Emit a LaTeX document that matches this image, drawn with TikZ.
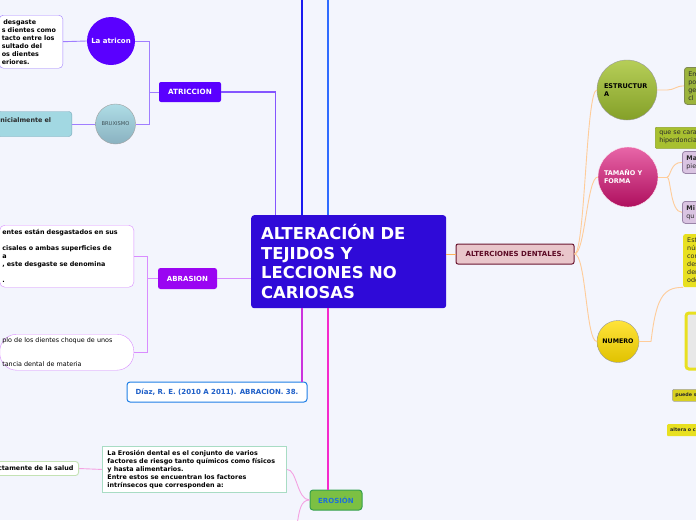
\documentclass[tikz,border=0pt]{standalone}
\usepackage{fontspec}
\setmainfont{DejaVu Sans}
\definecolor{bg}{HTML}{F3F5FD}
\definecolor{mainF}{HTML}{2F0AD8}
\definecolor{atricF}{HTML}{5A00FF}
\definecolor{abrF}{HTML}{9A05F2}
\definecolor{atrL}{HTML}{A07EFF}
\definecolor{atrMain}{HTML}{8455FF}
\definecolor{abrL}{HTML}{D98CFF}
\definecolor{blueA}{HTML}{1A1AF0}
\definecolor{blueB}{HTML}{2F6BFF}
\definecolor{magA}{HTML}{CC33DD}
\definecolor{magB}{HTML}{F52ACC}
\definecolor{pinkL}{HTML}{F4A2E2}
\definecolor{eroF}{HTML}{7CC043}
\definecolor{eroD}{HTML}{34A04E}
\definecolor{eroT}{HTML}{1F6FD8}
\definecolor{eroBox}{HTML}{A8DCC4}
\definecolor{ctamBox}{HTML}{C4E2B4}
\definecolor{diazB}{HTML}{1E7EE6}
\definecolor{diazT}{HTML}{1E5FC8}
\definecolor{altF}{HTML}{E9C6CB}
\definecolor{altD}{HTML}{6B1630}
\definecolor{altT}{HTML}{5C0A25}
\definecolor{orMain}{HTML}{FFB25A}
\definecolor{orL}{HTML}{FFCC99}
\definecolor{estT}{HTML}{B6CE58}
\definecolor{estB}{HTML}{84A028}
\definecolor{tamT}{HTML}{E866A8}
\definecolor{tamB}{HTML}{AE0F5E}
\definecolor{numT}{HTML}{FFE33A}
\definecolor{numB}{HTML}{E0C200}
\definecolor{bruxT}{HTML}{AEDCE6}
\definecolor{bruxB}{HTML}{8AB2C0}
\definecolor{nicF}{HTML}{A2D8E2}
\definecolor{nicD}{HTML}{78A8BA}
\definecolor{oliveF}{HTML}{9CB43C}
\definecolor{oliveD}{HTML}{7F8A50}
\definecolor{queF}{HTML}{A8C030}
\definecolor{queD}{HTML}{8FA428}
\definecolor{lilaF}{HTML}{DAC4E2}
\definecolor{lilaD}{HTML}{9A84A8}
\definecolor{yelF}{HTML}{E8E020}
\definecolor{pueF}{HTML}{D8D020}
\definecolor{grayIn}{HTML}{E8E8E8}
\definecolor{darkTxt}{HTML}{2A2A2A}
\tikzset{
  smalltxt/.style={font=\fontsize{6.4}{8}\selectfont\bfseries},
  normtxt/.style={font=\fontsize{6.4}{8}\selectfont},
  lbl/.style={font=\fontsize{7}{8.5}\selectfont\bfseries},
  clbl/.style={font=\fontsize{6.5}{8}\selectfont\bfseries},
  circ/.style={circle, inner sep=0pt},
  tinytxt/.style={font=\fontsize{4.8}{5.5}\selectfont\bfseries},
}
\begin{document}
\begin{tikzpicture}[x=1pt,y=-1pt]
\fill[bg] (0,0) rectangle (696,520);
\useasboundingbox (0,0) rectangle (696,520);
\clip (0,0) rectangle (696,520);

% ---------- main node
\node[fill=mainF, rounded corners=3, text=white, anchor=north west,
  minimum width=195, minimum height=93, text width=175, inner xsep=10, inner ysep=0,
  align=left, font=\fontsize{16.4}{19.6}\selectfont\bfseries] (main) at (251,215)
  {ALTERACIÓN DE\\TEJIDOS Y\\LECCIONES NO\\CARIOSAS};

% ---------- top lines
\coordinate (topA) at (302,0);
\coordinate (topB) at (328,0);
\coordinate (mA) at (302,215);
\coordinate (mB) at (328,215);
\coordinate (mAtr) at (275.5,215);
\draw[blueA, line width=1.3] (mA) -- (topA);
\draw[blueB, line width=1.3] (mB) -- (topB);

% ---------- ATRICCION branch
\node[fill=atricF, rounded corners=2, text=white, minimum width=62, minimum height=20,
  inner sep=0, font=\fontsize{7.2}{8.5}\selectfont\bfseries] (atr) at (190,92) {ATRICCION};
\draw[atrMain, line width=1.1] (atr.east) -| (mAtr);
\coordinate (atrJ) at (149,92);
\node[circ, fill=atricF, minimum size=48, text=white, lbl] (atricon) at (111,41) {La atricon};
\node[circ, draw=gray!75, top color=bruxT, bottom color=bruxB, minimum size=40,
  text=black!55!bruxB, font=\fontsize{5.2}{6}\selectfont] (brux) at (115.5,124) {BRUXISMO};
\draw[atrL, line width=0.9] (atr.west) -- (atrJ);
\draw[atrL, line width=0.9] (atrJ) |- (atricon.east);
\draw[atrL, line width=0.9] (atrJ) |- (brux.east);
\node[draw=atrL, fill=white, rounded corners=4, anchor=north east, text width=58.5,
  inner xsep=2.5, inner ysep=0, minimum height=53, align=left, smalltxt] (atxt) at (63,15)
  {\hspace*{1.5pt}desgaste\\s dientes como\\tacto entre los\\sultado del\\os dientes\\eriores.};
\draw[atrL, line width=0.9] (atricon.west) -- (atxt.east);
\node[fill=nicF, draw=nicD, rounded corners=3, anchor=east, text width=69, inner xsep=2.5,
  inner ysep=0, minimum height=25, align=left, smalltxt, text=darkTxt] (nic) at (72,124)
  {nicialmente el\\\mbox{}};
\draw[atrL, line width=0.9] (brux.west) -- (nic.east);

% ---------- ABRASION branch
\node[fill=abrF, rounded corners=2.5, text=white, minimum width=59, minimum height=21,
  inner sep=0, lbl] (abr) at (187.5,278.5) {ABRASION};
\draw[abrL, line width=1] (abr.east) -- (abr.east -| main.west);
\coordinate (abrJ) at (147,278.5);
\node[draw=abrL, fill=white, rounded corners=5, anchor=north east, text width=129,
  inner xsep=2.5, inner ysep=0, minimum height=62, align=left, smalltxt] (ab1) at (134,225)
  {entes están desgastados en sus\\\mbox{}\\cisales o ambas superficies de\\a\\, este desgaste se denomina\\\mbox{}\\.};
\node[draw=abrL, fill=white, rounded corners=17, anchor=north east, text width=129,
  inner xsep=2.5, inner ysep=0, minimum height=36, align=left, normtxt] (ab2) at (134,334)
  {plo de los dientes choque de unos\\\mbox{}\\\mbox{}\\tancia dental de materia};
\draw[abrL, line width=0.9] (abr.west) -- (abrJ);
\draw[abrL, line width=0.9] (abrJ) |- (ab1.east);
\draw[abrL, line width=0.9] (abrJ) |- (ab2.east);

% ---------- Diaz
\node[draw=diazB, line width=1, fill=white, rounded corners=3, minimum width=180,
  minimum height=20, inner sep=0, text=diazT, font=\fontsize{7}{8}\selectfont\bfseries] (diaz) at (217,392)
  {Díaz, R. E. (2010 A 2011). ABRACION. 38.};
\coordinate (mD) at (302,308);
\draw[magA, line width=1.1] (mD) -- (mD |- diaz.north);

% ---------- EROSION
\node[fill=eroF, draw=eroD, line width=1, rounded corners=3, minimum width=52,
  minimum height=20, inner sep=0, text=eroT, lbl] (ero) at (336,500) {EROSIÓN};
\coordinate (mE) at (328,308);
\draw[magB, line width=1.3] (mE) -- (mE |- ero.north);
\node[draw=eroBox, line width=0.9, fill=white, anchor=north west, text width=174,
  inner xsep=5, inner ysep=0, minimum height=46, align=left, smalltxt] (etx) at (102,446)
  {La Erosión dental es el conjunto de varios\\factores de riesgo tanto químicos como físicos\\y hasta alimentarios.\\Entre estos se encuentran los factores\\intrínsecos que corresponden a:};
\draw[pinkL, line width=0.9] (ero.west) .. controls (297,500) and (297,469) .. (etx.east);
\coordinate (eroOff) at (297,526);
\draw[pinkL, line width=0.9] (ero.west) .. controls (301,500) and (299,510) .. (eroOff);
\node[draw=ctamBox, line width=0.9, fill=white, rounded corners=3, anchor=east,
  text width=80, inner xsep=5, inner ysep=0, minimum height=14, align=right, smalltxt] (ctam) at (79,468.5)
  {ctamente de la salud};
\draw[pinkL, line width=0.9] (etx.west) -- (ctam.east);

% ---------- ALTERCIONES DENTALES
\node[fill=altF, draw=altD, line width=1, rounded corners=2, minimum width=118,
  minimum height=20, inner sep=0, text=altT, lbl] (alt) at (515,254) {ALTERCIONES DENTALES.};
\draw[orMain, line width=1] (main.east |- alt.west) -- (alt.west);

\node[circ, draw=gray!80, top color=estT, bottom color=estB, minimum size=60,
  text width=46, align=left, clbl, text=black] (estr) at (627,90) {ESTRUCTUR\\A};
\node[circ, draw=white!85!tamT, top color=tamT, bottom color=tamB, minimum size=60,
  text width=48, align=left, clbl, text=white] (tam) at (628,177) {TAMAÑO Y\\FORMA};
\node[circ, draw=gray!80, top color=numT, bottom color=numB, minimum size=42,
  font=\fontsize{6.3}{7}\selectfont\bfseries, text=black] (num) at (618,341.5) {NUMERO};

\draw[orL, line width=0.9] (alt.east) .. controls (585,254) and (586,90) .. (estr.west);
\draw[orL, line width=0.9] (alt.east) .. controls (585,254) and (587,177) .. (tam.west);
\draw[orL, line width=0.9] (alt.east) .. controls (586,254) and (586,341.5) .. (num.west);

% right-hand boxes
\node[fill=oliveF, draw=oliveD, line width=0.8, rounded corners=3, anchor=north west,
  minimum width=30, minimum height=37, text width=25, inner xsep=4, inner ysep=0,
  align=left, normtxt, text=darkTxt] (em) at (684,67) {Em\\po\\ge\\cl};
\draw[orL, line width=0.9] (estr.east) -- ++(10,0) .. controls +(7,0) and +(-8,0) .. (em.west);

\node[fill=queF, draw=queD, line width=0.6, rounded corners=1, anchor=north west,
  minimum width=50, minimum height=21, text width=44, inner xsep=4, inner ysep=0,
  align=left, normtxt, text=darkTxt] (que) at (655,127) {que se cara\\hiperdoncia};

\node[fill=lilaF, draw=lilaD, line width=0.8, rounded corners=3, anchor=north west,
  minimum width=30, minimum height=22, text width=24, inner xsep=4, inner ysep=0,
  align=left, normtxt, text=darkTxt] (ma) at (682,151) {\textbf{Ma}\\pie};
\node[fill=lilaF, draw=lilaD, line width=0.8, rounded corners=3, anchor=north west,
  minimum width=30, minimum height=22, text width=24, inner xsep=4, inner ysep=0,
  align=left, normtxt, text=darkTxt] (mi) at (682,201) {\textbf{Mi}\\qu};
\coordinate (tamJ) at (667,177);
\draw[orL, line width=0.9] (tam.east) -- (tamJ);
\draw[orL, line width=0.9] (tamJ) .. controls (671,177) and (670,162) .. (ma.west);
\draw[orL, line width=0.9] (tamJ) .. controls (671,177) and (670,212) .. (mi.west);

\node[fill=yelF, rounded corners=2, anchor=north west, minimum width=30,
  minimum height=53, text width=24, inner xsep=4, inner ysep=0, align=left, normtxt,
  text=darkTxt] (est) at (683,234) {Est\\núm\\con\\des\\den\\odo};
\coordinate (numJ) at (651,341.5);
\draw[orL, line width=0.9] (num.east) -- (numJ) .. controls (656,300) and (662,287) .. (est.south west);

\node[fill=grayIn, draw=yelF, line width=3, rounded corners=3, anchor=north west,
  minimum width=30, minimum height=56] (big) at (684.5,311.5) {};

\node[fill=pueF, draw=gray!70, line width=0.7, rounded corners=1.5, anchor=north west,
  minimum width=40, minimum height=12, inner xsep=3, inner ysep=0, tinytxt,
  text=darkTxt] (pue) at (672,389) {puede s\hspace*{20pt}};
\node[fill=yelF, rounded corners=1, anchor=north west, minimum width=40,
  minimum height=12, inner xsep=3, inner ysep=0, tinytxt, text=darkTxt] (alter) at (667,424)
  {altera o c\hspace*{20pt}};
\end{tikzpicture}
\end{document}
